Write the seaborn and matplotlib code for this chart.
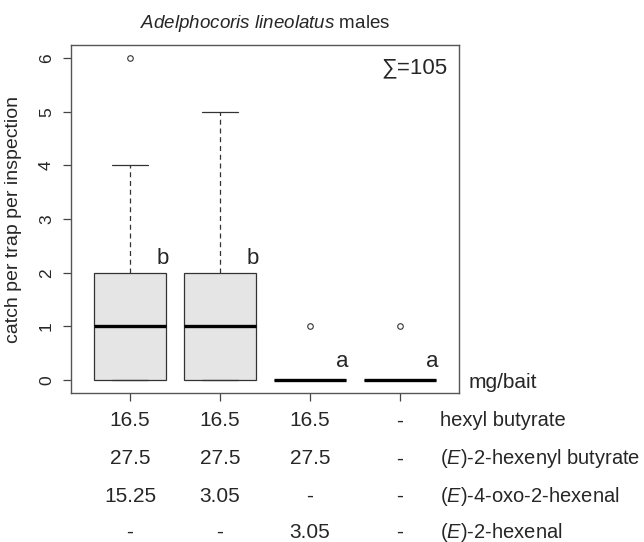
import numpy as np
import pandas as pd
import seaborn as sns
import matplotlib.pyplot as plt
from matplotlib.transforms import blended_transform_factory

# catch values and how often each occurred per treatment
levels = [0, 1, 2, 3, 4, 5, 6]
freq_t1 = [14, 11, 9, 3, 2, 0, 1]
freq_t2 = [14, 11, 9, 3, 2, 1, 0]
freq_t3 = [39, 1, 0, 0, 0, 0, 0]
freq_t4 = [39, 1, 0, 0, 0, 0, 0]
treatments = ['T1', 'T2', 'T3', 'T4']

letters = ['b', 'b', 'a', 'a']
letter_y = [2.26, 2.26, 0.34, 0.34]

hexyl_butyrate = ['16.5', '16.5', '16.5', '-']
hexenyl_butyrate = ['27.5', '27.5', '27.5', '-']
oxo_hexenal = ['15.25', '3.05', '-', '-']
hexenal = ['-', '-', '3.05', '-']
row_names = ['hexyl butyrate',
             r'($\it{E}$)-2-hexenyl butyrate',
             r'($\it{E}$)-4-oxo-2-hexenal',
             r'($\it{E}$)-2-hexenal']
total_catch = 105

rows = []
for t, fr in zip(treatments, [freq_t1, freq_t2, freq_t3, freq_t4]):
    for v in np.repeat(levels, fr):
        rows.append({'treatment': t, 'catch': v})
df = pd.DataFrame(rows)

sns.set_style('white')
plt.rcParams['font.family'] = ['Liberation Sans', 'DejaVu Sans']
plt.rcParams['mathtext.fontset'] = 'custom'
plt.rcParams['mathtext.rm'] = 'Liberation Sans'
plt.rcParams['mathtext.it'] = 'Liberation Sans:italic'

fig = plt.figure(figsize=(6.44, 5.42), dpi=100)
ax = fig.add_axes([70.7 / 644, 1 - 393 / 542, (459 - 70.7) / 644, (393 - 45.3) / 542])

edge = '#333333'
sns.boxplot(data=df, x='treatment', y='catch', order=treatments, ax=ax,
            color='#e5e5e5', saturation=1, width=0.8, linecolor=edge,
            linewidth=0.9, whis=1.5,
            medianprops=dict(color='black', linewidth=2.4),
            whiskerprops=dict(linestyle=(0, (4, 3)), color=edge, linewidth=0.9),
            capprops=dict(color=edge, linewidth=0.9),
            flierprops=dict(marker='o', markersize=4, markerfacecolor='none',
                            markeredgecolor=edge, markeredgewidth=0.8))

ax.set_xlim(-0.66, 3.66)
ax.set_ylim(-0.24, 6.24)
ax.set_yticks(range(7))
ax.set_yticklabels([str(i) for i in range(7)], rotation=90, va='center', fontsize=12.5)
ax.set_xticks(range(4))
ax.set_xticklabels([])
ax.set_xlabel('')
ax.tick_params(axis='both', direction='out', length=6, width=0.9, color='#444444',
               left=True, bottom=True, pad=6)
for s in ax.spines.values():
    s.set_visible(True)
    s.set_color('#555555')
    s.set_linewidth(1.0)

ax.set_ylabel('catch per trap per inspection', fontsize=14)
ax.yaxis.set_label_coords(-0.125, 0.5)

fig.text(265 / 644, 1 - 23 / 542, r'$\it{Adelphocoris\ lineolatus}$ males',
         ha='center', va='center', fontsize=13.5)

ax.text(0.97, 0.935, f'\u2211={total_catch}',
        transform=ax.transAxes, ha='right', va='center', fontsize=16)

for i, (lt, ly) in enumerate(zip(letters, letter_y)):
    ax.text(i + 0.36, ly, lt, ha='center', va='center', fontsize=16)

trans = blended_transform_factory(ax.transData, fig.transFigure)
row_y = [421, 459, 496, 532]
for vals, name, py in zip([hexyl_butyrate, hexenyl_butyrate, oxo_hexenal, hexenal],
                          row_names, row_y):
    yf = 1 - py / 542
    for i, v in enumerate(vals):
        ax.text(i, yf, v, transform=trans, ha='center', va='center', fontsize=15,
                clip_on=False)
    fig.text(440 / 644, yf, name, ha='left', va='center', fontsize=14.5)

fig.text(469 / 644, 1 - 382 / 542, 'mg/bait', ha='left', va='center', fontsize=15)

fig.savefig('out.png', dpi=100)
